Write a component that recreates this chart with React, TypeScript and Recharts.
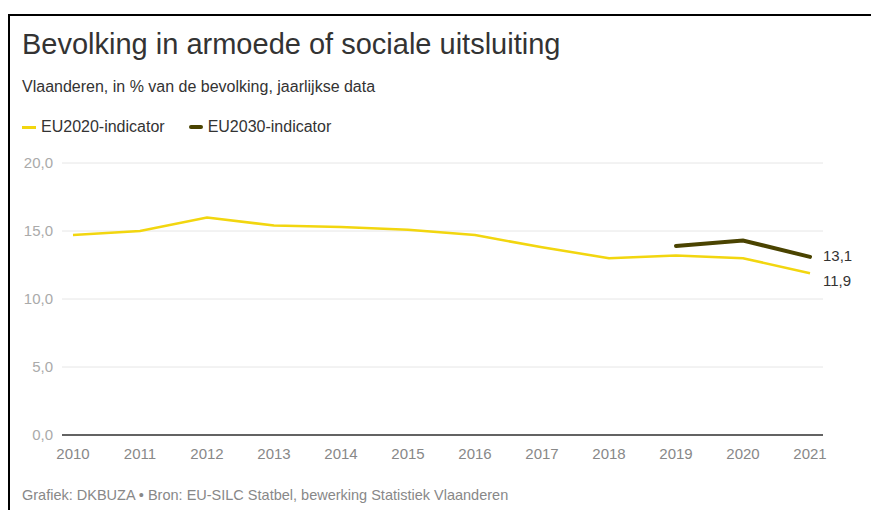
import { LineChart, Line, XAxis, YAxis, CartesianGrid } from 'recharts';

const years = ['2010', '2011', '2012', '2013', '2014', '2015', '2016', '2017', '2018', '2019', '2020', '2021'];
const eu2020 = [14.7, 15.0, 16.0, 15.4, 15.3, 15.1, 14.7, 13.8, 13.0, 13.2, 13.0, 11.9];
const eu2030 = [null, null, null, null, null, null, null, null, null, 13.9, 14.3, 13.1];
const yTicks = [0, 5, 10, 15, 20];

const YELLOW = '#f2d60f';
const DARK = '#4a4300';
const FONT = '"Liberation Sans", Arial, sans-serif';

const data = years.map((year, i) => ({ year, eu2020: eu2020[i], eu2030: eu2030[i] }));
const fmt = (v: number) => v.toFixed(1).replace('.', ',');

function endLabel(dy: number) {
  return (p: any) => {
    if (p.index !== years.length - 1 || p.value == null) return null;
    return (
      <text x={p.x + 13} y={p.y + dy} dy="0.35em" fontSize={15} fill="#333" fontFamily={FONT}>
        {fmt(p.value)}
      </text>
    );
  };
}

export default function App() {
  return (
    <div style={{ position: 'fixed', left: 0, top: 0, width: 871, height: 510, overflow: 'hidden', background: '#fff', fontFamily: FONT }}>
      <div style={{ position: 'absolute', left: 8, top: 14, width: 900, height: 600, borderTop: '2px solid #000', borderLeft: '2px solid #000' }} />
      <div style={{ position: 'absolute', left: 22, top: 28, fontSize: 29, color: '#333', whiteSpace: 'nowrap' }}>
        Bevolking in armoede of sociale uitsluiting
      </div>
      <div style={{ position: 'absolute', left: 22, top: 78, fontSize: 16, color: '#333', whiteSpace: 'nowrap' }}>
        Vlaanderen, in % van de bevolking, jaarlijkse data
      </div>
      <div style={{ position: 'absolute', left: 22, top: 118, fontSize: 16, color: '#333', display: 'flex', alignItems: 'center', whiteSpace: 'nowrap' }}>
        <span style={{ display: 'inline-block', width: 14, height: 3, background: YELLOW, marginRight: 5 }} />
        <span>EU2020-indicator</span>
        <span style={{ display: 'inline-block', width: 14, height: 4, background: DARK, marginLeft: 24, marginRight: 5, borderRadius: 2 }} />
        <span>EU2030-indicator</span>
      </div>
      <div style={{ position: 'absolute', left: 22, top: 487, fontSize: 14.5, color: '#888', whiteSpace: 'nowrap' }}>
        Grafiek: DKBUZA • Bron: EU-SILC Statbel, bewerking Statistiek Vlaanderen
      </div>
      <div style={{ position: 'absolute', left: 0, top: 0 }}>
        <LineChart width={871} height={510} data={data} margin={{ top: 163, right: 48, left: 12, bottom: 45 }}>
          <CartesianGrid vertical={false} stroke="#e6e6e6" />
          <XAxis
            dataKey="year"
            padding={{ left: 11, right: 13 }}
            tickLine={false}
            tickSize={6}
            tickMargin={7}
            height={30}
            axisLine={{ stroke: '#333', strokeWidth: 1.5 }}
            tick={{ fill: '#888', fontSize: 15, fontFamily: FONT }}
            interval={0}
          />
          <YAxis
            domain={[0, 20]}
            ticks={yTicks}
            width={50}
            tickLine={false}
            axisLine={false}
            tickSize={6}
            tickMargin={3}
            tickFormatter={fmt}
            tick={{ fill: '#aaa', fontSize: 15, fontFamily: FONT }}
          />
          <Line
            dataKey="eu2020"
            stroke={YELLOW}
            strokeWidth={2.5}
            dot={false}
            isAnimationActive={false}
            label={endLabel(7.5)}
          />
          <Line
            dataKey="eu2030"
            stroke={DARK}
            strokeWidth={4}
            strokeLinecap="round"
            dot={false}
            connectNulls={false}
            isAnimationActive={false}
            label={endLabel(-1)}
          />
        </LineChart>
      </div>
    </div>
  );
}
